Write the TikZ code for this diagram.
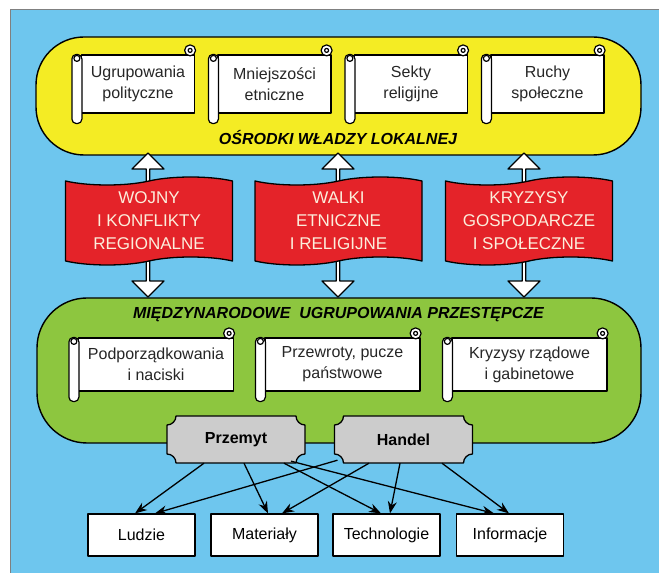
\documentclass[tikz,border=0pt]{standalone}
\usepackage{fontspec}
\setmainfont{Liberation Sans}
\usetikzlibrary{
    shapes.symbols, % tape shape for the red flags
    shapes.arrows,  % double arrow between the regions
    arrows.meta     % stealth tips
}
\definecolor{skyblue}{RGB}{110,198,238}
\definecolor{lemon}{RGB}{244,236,36}
\definecolor{leaf}{RGB}{141,198,63}
\definecolor{flagred}{RGB}{228,35,41}
\definecolor{plaquegray}{RGB}{204,204,204}
\definecolor{cream}{RGB}{252,238,220}
\tikzset{
    region/.style={draw, line width=1.4pt},
    caption/.style={font=\fontsize{16}{18}\selectfont\bfseries\itshape},
    scroll node/.style={draw, fill=white, line width=1.2pt, align=center,
        inner sep=1pt, text=black!85, font=\fontsize{16}{21}\selectfont},
    scroll part/.style={draw, fill=white, line width=1.2pt},
    flag node/.style={tape, draw, fill=flagred, line width=1.3pt,
        tape bend height=8pt, minimum width=167pt, minimum height=88pt,
        align=center, text=cream, font=\fontsize{17}{23}\selectfont},
    block arrow/.style={double arrow, draw, fill=white, line width=1.2pt,
        rotate=90, minimum width=32pt, double arrow head extend=5pt,
        inner sep=0pt},
    plaque node/.style={minimum width=138pt, minimum height=47pt, inner sep=0pt,
        font=\fontsize{16}{18}\selectfont\bfseries},
    target node/.style={draw, fill=white, line width=1.2pt, minimum width=107pt,
        minimum height=42pt, font=\fontsize{16}{18}\selectfont},
    flow/.style={->, line width=1.3pt},
    plaque/.pic={
        \draw[line width=1.3pt, fill=plaquegray]
            (-60,23.5) -- (60,23.5) arc[start angle=180, end angle=270, radius=9]
            -- (69,-14.5) arc[start angle=90, end angle=180, radius=9]
            -- (-60,-23.5) arc[start angle=0, end angle=90, radius=9]
            -- (-69,14.5) arc[start angle=270, end angle=360, radius=9] -- cycle;
    }
}
% roll on the left and curl on the top right of a scroll
\newcommand{\scrollroll}[1]{
    \draw[scroll part, rounded corners=4.5pt] ([xshift=-9pt]#1.north west)
        rectangle ([xshift=1pt, yshift=-10pt]#1.south west);
    \draw[scroll part] ([xshift=-4pt, yshift=-4pt]#1.north west) circle (3pt);
    \draw[scroll part] ([xshift=-5pt, yshift=4pt]#1.north east) circle (5.5pt);
    \draw[scroll part] ([xshift=-5pt, yshift=4pt]#1.north east) circle (2pt);
}

\begin{document}
\begin{tikzpicture}[x=1pt, y=1pt, >={Stealth[length=12pt, width=9pt]}, line join=round]
    \useasboundingbox (0,0) rectangle (659,573);
    \fill[skyblue] (10,0) rectangle (659,563);
    \draw[gray, line width=1pt] (10,0) -- (10,563) -- (659,563);

    % upper region
    \node[region, fill=lemon, rounded corners=48pt, minimum width=605pt,
        minimum height=118pt] (local) at (338.5,477) {};
    \node[caption] (local title) at (338,435) {OŚRODKI WŁADZY LOKALNEJ};
    \node[scroll node, minimum width=113pt, minimum height=58pt] (ugr) at (138,489) {Ugrupowania\\polityczne};
    \node[scroll node, minimum width=113pt, minimum height=58pt] (mniej) at (274.5,489) {Mniejszości\\etniczne};
    \node[scroll node, minimum width=113pt, minimum height=58pt] (sekty) at (411,489) {Sekty\\religijne};
    \node[scroll node, minimum width=113pt, minimum height=58pt] (ruchy) at (547.5,489) {Ruchy\\społeczne};
    \scrollroll{ugr} \scrollroll{mniej} \scrollroll{sekty} \scrollroll{ruchy}

    % lower region
    \node[region, fill=leaf, rounded corners=50pt, minimum width=604pt,
        minimum height=145pt] (crime) at (339,202.5) {};
    \node[caption] (crime title) at (338.5,258) {MIĘDZYNARODOWE\ \ UGRUPOWANIA PRZESTĘPCZE};
    \node[scroll node, minimum width=155pt, minimum height=53pt] (podp) at (156,208.5) {Podporządkowania\\i naciski};
    \node[scroll node, minimum width=155pt, minimum height=53pt] (przew) at (342.5,208.5) {Przewroty, pucze\\państwowe};
    \node[scroll node, minimum width=155pt, minimum height=53pt] (rzad) at (529.5,208.5) {Kryzysy rządowe\\i gabinetowe};
    \scrollroll{podp} \scrollroll{przew} \scrollroll{rzad}

    % arrows through the flags
    \node[block arrow, minimum height=144pt] (link1) at (148,348) {};
    \node[block arrow, minimum height=144pt] (link2) at (338,348) {};
    \node[block arrow, minimum height=144pt] (link3) at (524,348) {};
    \node[flag node] (wojny) at (149,352) {WOJNY\\I KONFLIKTY\\REGIONALNE};
    \node[flag node] (walki) at (338.5,352) {WALKI\\ETNICZNE\\I RELIGIJNE};
    \node[flag node] (kryzysy) at (529,352) {KRYZYSY\\GOSPODARCZE\\I SPOŁECZNE};

    % smuggling and trade
    \pic at (236,133.5) {plaque};
    \pic at (403.5,133.5) {plaque};
    \node[plaque node] (przemyt) at (236,133.5) {Przemyt};
    \node[plaque node] (handel) at (403.5,133.5) {Handel};

    \node[target node] (ludzie) at (141.5,38) {Ludzie};
    \node[target node] (mater) at (264.5,38) {Materiały};
    \node[target node] (techn) at (386.5,38) {Technologie};
    \node[target node] (inform) at (510,38) {Informacje};

    \draw[flow] ([xshift=-32pt]przemyt.south) -- ([xshift=-6.5pt]ludzie.north);
    \draw[flow] ([xshift=8pt]przemyt.south) -- ([xshift=3.5pt]mater.north);
    \draw[flow] ([xshift=48pt]przemyt.south) -- ([xshift=-5.5pt]techn.north);
    \draw[flow] ([xshift=55pt, yshift=2pt]przemyt.south) -- ([xshift=-16pt]inform.north);
    \draw[flow] ([xshift=-66pt, yshift=3pt]handel.south) -- ([xshift=13.5pt]ludzie.north);
    \draw[flow] ([xshift=-34.5pt]handel.south) -- ([xshift=17.5pt]mater.north);
    \draw[flow] ([xshift=-3.5pt]handel.south) -- ([xshift=3.5pt]techn.north);
    \draw[flow] ([xshift=38.5pt]handel.south) -- ([xshift=-1pt]inform.north);
\end{tikzpicture}
\end{document}
